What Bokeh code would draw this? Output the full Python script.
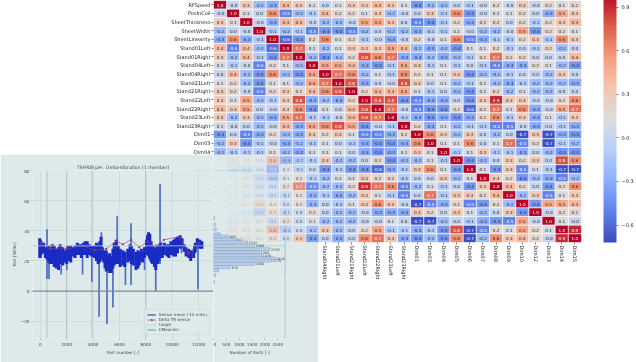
from bokeh.plotting import figure
from bokeh.models import (ColumnDataSource, FactorRange, Range1d, LinearColorMapper, ColorBar, FixedTicker,
                          Legend, LegendItem)
from bokeh.core.properties import value
from bokeh.embed import file_html
from bokeh.resources import INLINE
import numpy as np

labels = ["RFSpeed", "PosInCoil", "SheetThickness", "SheetWidth", "SheetLinearity", "Stand01Left", "Stand01Right",
          "Stand04Left", "Stand04Right", "Stand21Left", "Stand21Right", "Stand22Left", "Stand22Right", "Stand23Left",
          "Stand23Right", "Dim01", "Dim03", "Dim04", "Dim05", "Dim06", "Dim07", "Dim08", "Dim09", "Dim10", "Dim12",
          "Dim13", "Dim14", "Dim15"]

# upper triangle of the correlation matrix, row by row, starting on the diagonal
upper = [
 [1.0,-0.0,0.3,-0.2,-0.3,0.4,0.3,0.1,0.0,0.1,0.3,0.3,0.4,0.3,0.1,-0.4,-0.2,-0.2,0.0,-0.1,-0.0,0.2,-0.0,0.3,-0.0,0.2,0.1,0.2],
 [1.0,0.1,0.0,0.6,-0.5,-0.2,-0.1,0.4,0.2,0.2,0.1,0.3,-0.2,-0.0,0.0,0.3,-0.1,0.6,-0.4,-0.0,0.1,0.1,0.2,0.0,-0.3,0.5,0.3],
 [1.0,-0.0,-0.3,0.4,0.4,-0.0,-0.2,-0.2,-0.0,0.5,0.5,0.3,0.0,-0.5,-0.4,-0.1,0.2,-0.3,0.2,0.2,0.0,0.2,-0.1,0.2,0.3,0.4],
 [1.0,-0.1,-0.2,-0.1,-0.5,-0.4,-0.4,-0.5,-0.2,0.0,-0.2,-0.2,-0.3,-0.1,-0.1,0.1,-0.0,-0.2,-0.2,-0.0,0.5,-0.4,0.2,0.2,0.1],
 [1.0,-0.6,-0.4,0.2,0.6,0.1,0.2,-0.1,-0.0,-0.3,-0.0,0.2,-0.0,0.1,0.6,-0.5,-0.3,-0.1,-0.1,0.2,0.3,-0.1,0.6,0.3],
 [1.0,0.7,0.1,-0.2,0.1,0.3,0.3,0.3,0.5,0.4,-0.2,-0.3,-0.2,-0.4,0.1,0.1,0.2,-0.1,0.0,-0.1,0.2,-0.2,0.0],
 [1.0,-0.2,-0.4,-0.2,0.2,0.8,0.6,0.7,-0.3,-0.3,-0.2,-0.3,-0.2,-0.1,0.2,0.7,0.2,0.2,0.0,0.0,0.0,0.4],
 [1.0,0.5,0.5,0.4,-0.3,-0.4,-0.1,0.5,0.3,-0.1,0.1,-0.1,0.0,-0.1,-0.5,-0.3,-0.3,0.2,0.1,-0.2,-0.4],
 [1.0,0.7,0.6,-0.2,0.1,-0.1,0.6,0.2,0.1,0.1,0.3,-0.4,-0.2,-0.2,-0.1,0.0,0.0,-0.2,0.3,0.0],
 [1.0,0.8,-0.3,0.0,-0.0,0.8,0.3,0.0,0.1,-0.2,-0.1,0.1,-0.2,-0.3,-0.1,-0.2,-0.2,-0.2,-0.3],
 [1.0,0.2,0.4,0.4,0.5,0.1,-0.1,0.0,-0.2,-0.4,0.1,0.2,-0.2,0.1,-0.2,-0.2,0.0,0.0],
 [1.0,0.8,0.8,-0.4,-0.5,-0.3,-0.3,0.0,-0.4,0.3,0.9,0.3,0.3,-0.0,-0.0,0.2,0.6],
 [1.0,0.7,-0.0,-0.5,-0.4,-0.4,0.2,-0.6,0.2,0.7,0.1,0.6,-0.3,-0.0,0.5,0.7],
 [1.0,-0.1,-0.3,-0.4,-0.3,-0.4,-0.3,0.2,0.6,-0.1,0.3,-0.3,0.1,-0.1,0.3],
 [1.0,0.2,-0.3,0.1,-0.2,-0.1,-0.1,-0.5,-0.5,-0.0,-0.3,0.0,-0.1,-0.3],
 [1.0,0.6,0.3,-0.2,0.3,0.0,-0.2,0.0,-0.7,0.3,-0.7,-0.3,-0.4],
 [1.0,0.1,0.1,0.6,0.0,0.1,0.7,-0.5,0.2,-0.7,-0.1,-0.2],
 [1.0,-0.1,0.1,0.3,-0.1,-0.1,-0.3,0.0,-0.2,-0.4,-0.4],
 [1.0,-0.4,-0.2,0.0,0.3,0.2,0.3,0.0,0.8,0.6],
 [1.0,0.1,-0.4,0.3,-0.5,0.1,-0.1,-0.7,-0.7],
 [1.0,0.3,0.2,-0.4,-0.2,-0.3,-0.5,-0.2],
 [1.0,0.4,0.2,0.0,-0.4,0.2,0.6],
 [1.0,-0.2,0.3,-0.5,0.1,0.3],
 [1.0,-0.4,0.5,0.5,0.4],
 [1.0,-0.0,0.2,0.2],
 [1.0,0.1,-0.0],
 [1.0,0.9],
 [1.0],
]
# how much of each column still shows through the pale panel (rows from Dim05 down)
panel_show = [0.0, 0.08, 0.14, 0.25, 0.45, 0.6, 0.75, 0.9]
hidden_from_row = 18

cbar_ticks = [-0.6, -0.3, 0.0, 0.3, 0.6, 0.9]
vmin, vmax = -0.72, 1.0

# inset: sensor trace
x_ticks = [0, 2000, 4000, 6000, 8000, 10000, 12000]
y_ticks = [-20, 0, 20, 40, 60, 80]
band_x = [-50, 50, 150, 250, 380, 500, 620, 750, 900, 1050, 1200, 1375, 1500, 1700, 1850, 2000, 2150, 2300, 2450, 2625,
          2800, 2950, 3100, 3250, 3400, 3550, 3700, 3875, 4000, 4100, 4250, 4375, 4500, 4600, 4700, 4800, 4900, 5000,
          5150, 5250, 5375, 5500, 5600, 5750, 5900, 6050, 6250, 6400, 6625, 6800, 6900, 7050, 7250, 7400, 7500, 7650,
          7750, 7900, 8050, 8125, 8200, 8300, 8400, 8500, 8650, 8750, 8900, 9000, 9120, 9250, 9400, 9600, 9750, 9900,
          10100, 10250, 10400, 10600, 10750, 10900, 11050, 11250, 11400, 11625, 11700, 11750, 11900, 12000, 12100, 12250]
band_hi = [35, 33, 30, 32, 29, 27, 30, 29, 31, 30, 28, 29, 31, 29, 27, 28, 30, 30, 29, 30, 32, 31, 31, 32, 33, 33, 31,
           30, 29, 30, 32, 31, 33, 36, 29, 26, 27, 26, 24, 25, 23, 28, 32, 34, 30, 28, 27, 26, 28, 31, 30, 28, 26, 27,
           26, 28, 26, 29, 34, 37, 39, 38, 33, 30, 29, 28, 30, 31, 32, 30, 32, 31, 31, 33, 34, 35, 36, 37, 35, 31, 29,
           28, 27, 27, 30, 32, 35, 34, 34, 33]
band_lo = [22, 24, 25, 25, 22, 21, 19, 18, 18, 16, 15, 14, 18, 17, 19, 18, 20, 19, 23, 22, 24, 24, 22, 24, 24, 22, 24,
           23, 24, 22, 20, 18, 19, 22, 21, 19, 15, 13, 14, 12, 12, 15, 17, 18, 18, 16, 17, 16, 19, 20, 18, 17, 14, 15,
           17, 20, 19, 22, 24, 24, 23, 21, 19, 18, 16, 14, 18, 20, 22, 22, 24, 23, 22, 24, 23, 23, 25, 28, 29, 26, 23,
           22, 20, 22, 25, 26, 29, 29, 28, 28]
spike_x = [50, 500, 650, 1575, 3200, 3900, 4450, 4625, 5050, 5500, 5825, 6450, 6875, 8750, 9075, 11950, 2000, 7900,
           10700, 8950]
spike_hi = [34, 41, 30, 29, 28, 27, 28, 39, 27, 26, 50, 26, 45, 31, 71, 30, 30, 29, 34, 30]
spike_lo = [22, 8, 8, 11, 11, 6, -17, 20, -22, -11, 18, 4, 4, 0, 18, 1, 14, 14, 25, 18]
mean_x = [0, 750, 2000, 3250, 4125, 5000, 5750, 6250, 6875, 7500, 8125, 8750, 9375, 10500, 11250, 12000]
mean_y = [32, 28, 28, 30, 27, 28, 33, 31, 34, 29, 33, 29, 34, 36, 25, 32]
target_y = [30]
limit_y = [0]
v_lines = [2000, 3900, 8000, 500]
# inset: histogram of the same values
hist_y = [48.5, 44.1, 40.9, 37.6, 36.1, 34.3, 32.2, 30.0, 27.8, 25.7, 23.5, 21.7, 20.2, 18.0, 15.9, 13.7, 10.4, 6.1]
hist_n = [40, 70, 110, 270, 600, 800, 1330, 1600, 2200, 1800, 1870, 2400, 2270, 1600, 670, 200, 70, 40]
hist_ticks = [0, 500, 1000, 1500, 2000, 2500]

FONT = "DejaVu Sans"
TEAL = "#deeaea"

# coolwarm
anchors = [(59, 76, 192), (98, 130, 234), (141, 176, 254), (185, 208, 249), (221, 220, 220), (245, 196, 172),
           (244, 154, 123), (217, 88, 71), (180, 4, 38)]
stops = np.linspace(0, 1, len(anchors))
grid = np.linspace(0, 1, 256)
palette = ["#%02x%02x%02x" % tuple(int(round(np.interp(t, stops, [a[i] for a in anchors]))) for i in range(3)) for t in grid]

# ---------- inset: trace ----------
tx = figure(width=213, height=208, x_range=Range1d(-600, 13130), y_range=Range1d(-31.5, 80),
            output_backend="svg", toolbar_location=None, min_border_left=32, min_border_right=0,
            min_border_top=16, min_border_bottom=24,
            title="TSF908 µH : Delta-Vibration (1 member)", background_fill_color=TEAL, border_fill_color=TEAL)
tx.title.text_font = FONT
tx.title.text_font_size = "4.6px"
tx.title.text_font_style = "normal"
tx.title.align = "center"
tx.title.text_color = "#3c4a50"
tx.title.offset = 0
tx.title.standoff = 2
tx.outline_line_color = None
for g in (tx.xgrid[0], tx.ygrid[0]):
    g.grid_line_color = "#c3d6de"
    g.grid_line_width = 0.6
lines = tx.segment(x0=v_lines, x1=v_lines, y0=-31.5, y1=80, line_color="#a9c2d4", line_width=1)
sp = tx.segment(x0=spike_x, x1=spike_x, y0=spike_lo, y1=spike_hi, line_color="#4f6fc6", line_width=1.7)
band = tx.segment(x0=band_x, x1=band_x, y0=band_lo, y1=band_hi, line_color="#1a2bc4", line_width=3.0)
mean = tx.line(mean_x, mean_y, line_color="#a0308f", line_width=0.9, line_alpha=0.7)
mdots = tx.scatter(mean_x, mean_y, size=2.2, fill_color="#a0308f", line_color=None)
tgt = tx.line([-600, 13130], target_y * 2, line_color="#a9d8b8", line_width=0.8)
lim = tx.line([-600, 13130], limit_y * 2, line_color="#7f8d94", line_width=1.2)
tx.xaxis.ticker = FixedTicker(ticks=x_ticks)
tx.yaxis.ticker = FixedTicker(ticks=y_ticks)
tx.xaxis.axis_label = "Part number [-]"
tx.yaxis.axis_label = "Test [Wt/m]"
for ax in (tx.xaxis[0], tx.yaxis[0]):
    ax.major_label_text_font = FONT
    ax.major_label_text_font_size = "4.2px"
    ax.major_label_text_color = "#3c4a50"
    ax.axis_label_text_font = FONT
    ax.axis_label_text_font_size = "4.2px"
    ax.axis_label_text_font_style = "normal"
    ax.axis_label_text_color = "#3c4a50"
    ax.axis_line_color = None
    ax.major_tick_line_color = "#8da0a8"
    ax.major_tick_out = 1
    ax.major_tick_in = 0
    ax.minor_tick_line_color = None
    ax.major_label_standoff = 2
    ax.axis_label_standoff = 1
legend = Legend(items=[LegendItem(label="Sensor mean (-10 mins)", renderers=[sp]),
                       LegendItem(label="Delta TR sensor", renderers=[mean, mdots]),
                       LegendItem(label="target", renderers=[tgt]),
                       LegendItem(label="UMeanlim", renderers=[lim])],
                location="bottom_right", label_text_font=FONT, label_text_font_size="4px",
                label_text_color="#3c4a50", glyph_height=5, glyph_width=9, label_height=5, label_standoff=3,
                spacing=0, padding=2, margin=3, background_fill_color=TEAL, background_fill_alpha=0.8,
                border_line_color="#c3d6de", border_line_width=0.5)
tx.add_layout(legend, "center")
tx.styles = {"position": "absolute", "left": "0px", "top": "154px", "filter": "blur(0.7px)"}

# ---------- inset: histogram ----------
hx = figure(width=105, height=208, x_range=Range1d(0, 2800), y_range=Range1d(-31.5, 80),
            output_backend="svg", toolbar_location=None, min_border_left=0, min_border_right=33,
            min_border_top=16, min_border_bottom=24, background_fill_color=TEAL, border_fill_color=TEAL)
hx.outline_line_color = None
hx.grid.visible = False
hx.yaxis.visible = False
hx.hbar(y=hist_y, left=0, right=hist_n, height=2.0, fill_color="#b9cde6", line_color="#6f8fc0", line_width=0.4)
hx.segment(x0=[0], x1=[2800], y0=target_y, y1=target_y, line_color="#a9d8b8", line_width=0.8)
hx.segment(x0=[2790], x1=[2790], y0=[-31.5], y1=[80], line_color="#a3b9cc", line_width=1.2)
big = [i for i, c in enumerate(hist_n) if c >= 600]
hx.text(x=[hist_n[i] for i in big], y=[hist_y[i] for i in big], text=[str(hist_n[i]) for i in big],
        text_font=value(FONT), text_font_size="3.4px", text_color="#3c4a50", text_baseline="middle", x_offset=1)
hx.xaxis.ticker = FixedTicker(ticks=hist_ticks)
hx.xaxis.axis_label = "Number of Parts [-]"
ax = hx.xaxis[0]
ax.major_label_text_font = FONT
ax.major_label_text_font_size = "4.2px"
ax.major_label_text_color = "#3c4a50"
ax.axis_label_text_font = FONT
ax.axis_label_text_font_size = "4.2px"
ax.axis_label_text_font_style = "normal"
ax.axis_label_text_color = "#3c4a50"
ax.axis_line_color = None
ax.major_tick_line_color = "#8da0a8"
ax.major_tick_out = 1
ax.major_tick_in = 0
ax.minor_tick_line_color = None
ax.major_label_standoff = 2
ax.axis_label_standoff = 1
hx.styles = {"position": "absolute", "left": "213px", "top": "154px", "filter": "blur(0.7px)"}

# ---------- heatmap ----------
n = len(labels)
matrix = np.full((n, n), 0.0)
for r, row in enumerate(upper):
    for k, v in enumerate(row):
        matrix[r, r + k] = v
        matrix[r + k, r] = v

mapper = LinearColorMapper(palette=palette, low=vmin, high=vmax)


def cells(keep):
    d = dict(x=[], y=[], v=[], t=[], c=[], a=[])
    for r in range(n):
        for c in range(n):
            a = keep(r, c)
            if a <= 0:
                continue
            v = matrix[r, c]
            d["x"].append(labels[c]); d["y"].append(labels[r]); d["v"].append(v)
            d["t"].append(f"{v:.1f}")
            d["c"].append("#ffffff" if (v >= 0.62 or v <= -0.42) else "#262626")
            d["a"].append(a)
    return ColumnDataSource(d)


def draw_cells(fig, src):
    fig.rect(x="x", y="y", width=1, height=1, source=src, fill_color={"field": "v", "transform": mapper},
             fill_alpha="a", line_color="#ffffff", line_width=0.6, line_alpha="a")
    fig.text(x="x", y="y", text="t", source=src, text_color="c", text_alpha="a", text_align="center",
             text_baseline="middle", text_font=value(FONT), text_font_size="4.2px")


def heat_figure():
    f = figure(width=636, height=362, x_range=FactorRange(factors=labels), y_range=FactorRange(factors=labels[::-1]),
               output_backend="svg", toolbar_location=None, min_border_left=213, min_border_right=54,
               min_border_top=0, min_border_bottom=120, background_fill_alpha=0, border_fill_alpha=0)
    f.x_range.range_padding = 0
    f.y_range.range_padding = 0
    f.x_range.factor_padding = 0
    f.y_range.factor_padding = 0
    f.outline_line_color = None
    f.grid.visible = False
    f.styles = {"position": "absolute", "left": "0px", "top": "0px", "filter": "blur(0.3px)"}
    return f


p = heat_figure()
draw_cells(p, cells(lambda r, c: 1.0))
p.xaxis.major_label_orientation = "vertical"
for ax in (p.xaxis[0], p.yaxis[0]):
    ax.major_label_text_font = FONT
    ax.major_label_text_font_size = "5px"
    ax.major_label_text_color = "#262626"
    ax.axis_line_color = None
    ax.major_tick_line_color = "#262626"
    ax.major_tick_line_width = 0.6
    ax.major_tick_out = 2
    ax.major_tick_in = 0
    ax.major_label_standoff = 1
cb = ColorBar(color_mapper=mapper, location=(22, 0), width=13, height=250, padding=0, margin=0,
              ticker=FixedTicker(ticks=cbar_ticks), major_label_text_font=FONT, major_label_text_font_size="5px",
              major_label_text_color="#262626", major_tick_line_color="#262626", major_tick_line_width=0.6,
              major_tick_in=0, major_tick_out=2, minor_tick_line_color=None,
              bar_line_color=None, label_standoff=3, scale_alpha=1,
              major_label_overrides={t: f"{t:.1f}".replace("-", "\u2212") for t in cbar_ticks})
p.add_layout(cb, "right")

# the cells that show faintly through the pale panel, on top of it
fade = heat_figure()
draw_cells(fade, cells(lambda r, c: panel_show[c] if r >= hidden_from_row and c < len(panel_show) else 0.0))
fade.xaxis.visible = False
fade.yaxis.visible = False

open("out.html", "w").write(file_html([p, tx, hx, fade], INLINE))
